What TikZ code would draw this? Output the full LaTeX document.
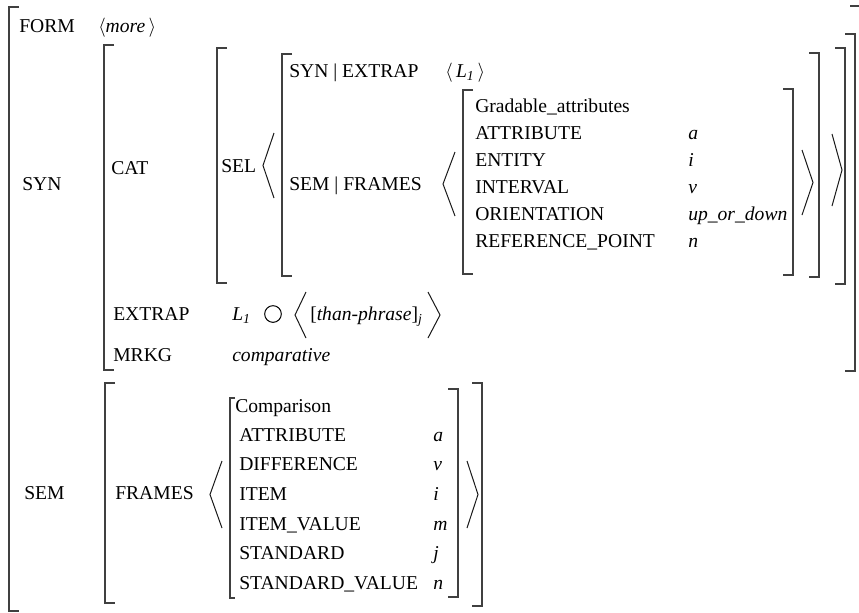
\documentclass[tikz,border=0pt]{standalone}
\usepackage{fontspec}
\setmainfont{Liberation Serif}
% square brackets of an attribute-value matrix: x, top y, bottom y (tick length optional)
\newcommand\avmL[4][10]{\draw[brk] (#2,#3) ++(#1,0) -- (#2,#3) -- (#2,#4) -- ++(#1,0);}
\newcommand\avmR[4][10]{\draw[brk] (#2,#3) ++(-#1,0) -- (#2,#3) -- (#2,#4) -- ++(-#1,0);}
% large angle brackets: tip x, open x, top y, bottom y
\newcommand\angB[4]{\draw[ang] (#2,#3) -- (#1,{(#3+#4)/2}) -- (#2,#4);}
\begin{document}
\begin{tikzpicture}[x=0.75pt,y=-0.75pt,
  txt/.style={anchor=base west,inner sep=0pt,font=\fontsize{14.7}{17}\selectfont},
  brk/.style={line width=1.1pt,color=black!75},
  ang/.style={line width=0.75pt,color=black!90}]
\useasboundingbox (0,0) rectangle (859,612);

% outermost matrix
\avmL{9}{7}{611}
\draw[brk] (850,6) -- (860,6) -- (860,620);
\node[txt] (form)  at (19,32.5) {FORM};
\node[txt] (formv) at (98,32.5) {$\langle$\textit{more}\,$\rangle$};
\node[txt] (syn)   at (22,190.5) {SYN};
\node[txt] (sem)   at (24,499.5) {SEM};

% SYN value
\avmL{104}{45}{370}
\avmR{855}{34}{371}
\node[txt] (cat) at (111,174.5) {CAT};
\node[txt] (extrap) at (113,320.5) {EXTRAP};
\node[txt] (mrkg)   at (113,361.5) {MRKG};

% CAT value
\avmL{217}{48}{283}
\avmR{845}{48}{284}
\node[txt] (sel) at (221,172.5) {SEL};
\angB{263}{274}{133}{198}
\angB{842}{832}{134}{206}

% SEL list element
\avmL{282}{54}{276}
\avmR{819}{53}{277}
\node[txt] (synx)  at (289,77.5) {SYN | EXTRAP};
\node[txt] (synxv) at (445,77.5) {$\langle$\,\textit{L}\textsubscript{\textit{1}}\,$\rangle$};
\node[txt] (semf)  at (289,190.5) {SEM | FRAMES};
\angB{443}{455}{152}{216}
\angB{813}{802}{150}{215}

% Gradable_attributes frame
\avmL{463}{90}{274}
\avmR{793}{89}{275}
\node[txt] (gr)  at (475,112.5) {Gradable\_attributes};
\node[txt] (ga)  at (475,139.5) {ATTRIBUTE};
\node[txt] (gav) at (688,139.5) {\textit{a}};
\node[txt] (ge)  at (475,166.5) {ENTITY};
\node[txt] (gev) at (688,166.5) {\textit{i}};
\node[txt] (gi)  at (475,193.5) {INTERVAL};
\node[txt] (giv) at (688,193.5) {\textit{v}};
\node[txt] (go)  at (475,220.5) {ORIENTATION};
\node[txt] (gov) at (688,220.5) {\textit{up\_or\_down}};
\node[txt] (gp)  at (475,247.5) {REFERENCE\_POINT};
\node[txt] (gpv) at (688,247.5) {\textit{n}};

% EXTRAP and MRKG values
\node[txt] (l1) at (232,320.5) {\textit{L}\textsubscript{\textit{1}}};
\node[draw,circle,line width=0.75pt,minimum size=12.5pt,inner sep=0pt] (shuf) at (273,314) {};
\angB{295}{306}{292}{338}
\node[txt] (than) at (310,320.5) {[\textit{than-phrase}]\textsubscript{\textit{j}}};
\angB{440}{428}{292}{338}
\node[txt] (comp) at (232,361.5) {\textit{comparative}};

% SEM value
\avmL{105}{383}{603}
\avmR{482}{383}{606}
\node[txt] (frames) at (115,499.5) {FRAMES};
\angB{210}{222}{461}{528}
\angB{478}{467}{461}{528}

% Comparison frame
\avmL[5]{230}{398}{598}
\avmR{458}{389}{597}
\node[txt] (cm)  at (235,412) {Comparison};
\node[txt] (ca)  at (239,441.2) {ATTRIBUTE};
\node[txt] (cav) at (433,441.2) {\textit{a}};
\node[txt] (cd)  at (239,470.8) {DIFFERENCE};
\node[txt] (cdv) at (433,470.8) {\textit{v}};
\node[txt] (ci)  at (239,500.5) {ITEM};
\node[txt] (civ) at (433,500.5) {\textit{i}};
\node[txt] (civl) at (239,530.2) {ITEM\_VALUE};
\node[txt] (civlv) at (433,530.2) {\textit{m}};
\node[txt] (cs)  at (239,559.8) {STANDARD};
\node[txt] (csv) at (433,559.8) {\textit{j}};
\node[txt] (csvl) at (239,589.5) {STANDARD\_VALUE};
\node[txt] (csvlv) at (433,589.5) {\textit{n}};
\end{tikzpicture}
\end{document}
